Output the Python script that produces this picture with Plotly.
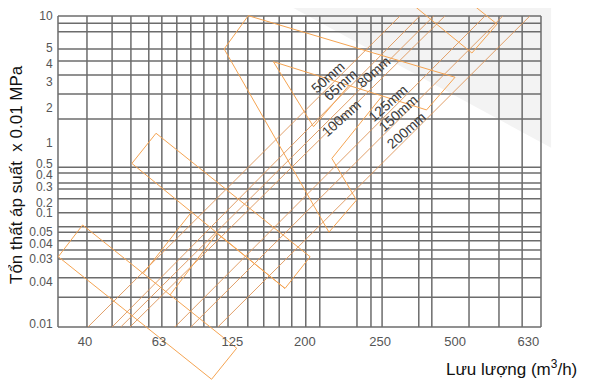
import plotly.graph_objects as go

# ---- data (units: percent of the gridded box; x 0..100 left->right, y 0..100 bottom->top)
grid_x = [0, 6.0, 11.2, 15.1, 18.8, 21.5, 24.6, 27.5, 30.2, 32.9, 35.2, 39.3, 42.6, 45.8,
          48.4, 51.3, 54.2, 61.9, 64.8, 67.1, 74.7, 77.4, 85.1, 91.3, 96.1, 100]
grid_y = [0, 9.6, 15.8, 21.9, 24.8, 27.7, 30.5, 32.2, 36.7, 41.2, 44.4, 46.3, 49.5, 51.4,
          66.9, 74.9, 81.0, 85.5, 89.4, 94.9, 97.7, 100]

xtick_pos = [5.6, 20.9, 36.1, 51.1, 66.7, 82.2, 97.4]
xtick_labels = ["40", "63", "125", "200", "250", "500", "630"]

ytick_pos = [100, 89.8, 84.5, 78.7, 70.6, 59.3, 52.4, 48.9, 45.0, 40.0, 36.6, 30.6, 26.6,
             21.9, 14.4, 1.0]
ytick_labels = ["10", "5", "4", "3", "2", "1", "0.5", "0.4", "0.3", "0.2", "0.1", "0.05",
                "0.04", "0.03", "0.04", "0.01"]

pipe_sizes = ["50mm", "65mm", "80mm", "100mm", "125mm", "150mm", "200mm"]
pipe_start_x = [6.2, 11.2, 13.0, 14.9, 24.2, 27.5, 33.1]
pipe_end_x = [70.8, 74.9, 77.8, 80.1, 88.4, 92.1, 97.7]
label_x = [55.9, 58.4, 65.3, 58.7, 68.4, 70.5, 72.2]
label_y = [80.5, 77.8, 82.1, 67.1, 71.9, 68.7, 63.3]

outline_a_x = [34.4, 39.4, 82.2, 76.3, 44.6]
outline_a_y = [89.4, 100.1, 80.3, 69.8, 85.3]
outline_b_x = [44.6, 52.9, 60.2]
outline_b_y = [85.3, 64.4, 77.6]
outline_c_x = [67.0, 56.7, 61.8, 56.1, 34.4]
outline_c_y = [74.1, 54.2, 40.8, 30.5, 89.4]
outline_d_x = [72.3, 85.7, 90.9, 84.7]
outline_d_y = [105.1, 88.1, 97.4, 105.1]
outline_p_x = [15.3, 20.3, 52.2, 47.0, 15.3]
outline_p_y = [52.6, 62.3, 22.6, 12.4, 52.6]
outline_q_x = [27.7, 17.7]
outline_q_y = [37.1, 17.3]
outline_s_x = [0.06, 5.1, 37.0, 31.8, 0.06]
outline_s_y = [22.6, 32.8, -6.8, -16.8, 22.6]
outline_r_x = [23.2, 32.9, 47.0]
outline_r_y = [10.3, 30.1, 12.4]

shade_x = [48.0, 102.1, 102.1, 48.0]
shade_y = [103.2, 103.2, 57.6, 103.2]

# page body has an 8px default margin; the figure is sized to fill the rest of the window
W, H, OFF = 581, 373, 8
X_RANGE = [-10.35, 109.94]
Y_RANGE = [-17.36, 102.57]

fig = go.Figure()

# light grey shading
fig.add_trace(go.Scatter(x=shade_x, y=shade_y, mode="lines", fill="toself",
                         fillcolor="#f3f3f3", line=dict(width=0), hoverinfo="skip"))

# grid
gx, gy = [], []
for v in grid_x:
    gx += [v, v, None]
    gy += [0, 100, None]
for h in grid_y:
    gx += [0, 100, None]
    gy += [h, h, None]
fig.add_trace(go.Scatter(x=gx, y=gy, mode="lines",
                         line=dict(color="#6c6c6c", width=1.5), hoverinfo="skip"))

# pipe curves
px_, py_ = [], []
for s, e in zip(pipe_start_x, pipe_end_x):
    px_ += [s, e, None]
    py_ += [0, 100, None]
fig.add_trace(go.Scatter(x=px_, y=py_, mode="lines",
                         line=dict(color="rgba(222,150,90,0.9)", width=1), hoverinfo="skip"))

# orange outlines
for ox, oy in [(outline_a_x, outline_a_y), (outline_b_x, outline_b_y),
               (outline_c_x, outline_c_y), (outline_d_x, outline_d_y),
               (outline_p_x, outline_p_y), (outline_q_x, outline_q_y),
               (outline_s_x, outline_s_y), (outline_r_x, outline_r_y)]:
    fig.add_trace(go.Scatter(x=ox, y=oy, mode="lines",
                             line=dict(color="#f5a452", width=1), hoverinfo="skip"))

# pipe labels
for t, lx, ly in zip(pipe_sizes, label_x, label_y):
    fig.add_annotation(x=lx, y=ly, xref="x", yref="y", text=t, showarrow=False,
                       textangle=-42, xanchor="center", yanchor="middle",
                       font=dict(family="Liberation Sans", size=14, color="#3a3a3a"))

# axis titles
fig.add_annotation(x=(16 - OFF) / W, y=1 - (175 - OFF) / H, xref="paper", yref="paper",
                   text="Tổn thất áp suất  x 0.01 MPa", showarrow=False, textangle=-90,
                   xanchor="center", yanchor="middle",
                   font=dict(family="Liberation Sans", size=17, color="#111"))
fig.add_annotation(x=(511 - OFF) / W, y=1 - (368 - OFF) / H, xref="paper", yref="paper",
                   text="Lưu lượng (m<sup>3</sup>/h)", showarrow=False,
                   xanchor="center", yanchor="middle",
                   font=dict(family="Liberation Sans", size=17, color="#111"))

fig.update_layout(
    width=W, height=H,
    margin=dict(l=0, r=0, t=0, b=0, pad=0),
    paper_bgcolor="white", plot_bgcolor="white",
    showlegend=False,
    xaxis=dict(range=X_RANGE, domain=[0, 1], anchor="free", position=1 - (327 - OFF) / H,
               tickmode="array", tickvals=xtick_pos, ticktext=xtick_labels,
               showgrid=False, zeroline=False, showline=False,
               ticks="outside", ticklen=2, tickcolor="rgba(0,0,0,0)", automargin=False,
               tickfont=dict(family="Liberation Sans", size=13, color="#555"),
               fixedrange=True),
    yaxis=dict(range=Y_RANGE, domain=[0, 1], anchor="free", position=(58 - OFF) / W,
               tickmode="array", tickvals=ytick_pos, ticktext=ytick_labels,
               showgrid=False, zeroline=False, showline=False,
               ticks="outside", ticklen=3, tickcolor="rgba(0,0,0,0)", automargin=False,
               tickfont=dict(family="Liberation Sans", size=12, color="#555"),
               fixedrange=True),
)

fig.write_html("out.html")
